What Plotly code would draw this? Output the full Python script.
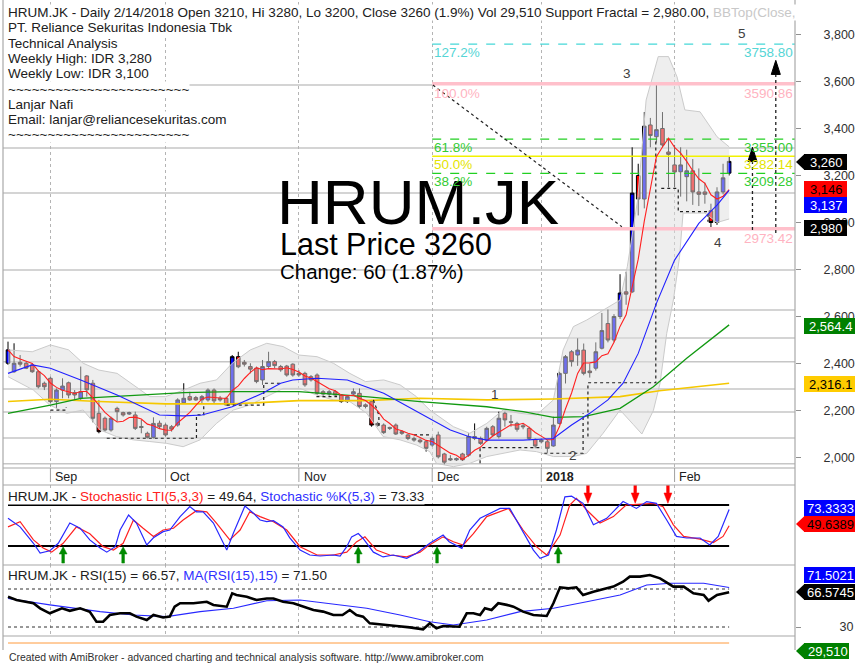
import plotly.graph_objects as go
import pandas as pd

W, H = 855, 664
ML, MR = 3, 60
PW = W - ML - MR

def px(xp):
    return (xp - ML) / PW

def py(yp):
    return 1 - yp / H

FONT = "Liberation Sans, Arial, sans-serif"

# ---------------- price data (bar index 0 = 23 Aug 2017 ... 119 = 14 Feb 2018) ----------------
opens = [2401,2365,2405,2401,2394,2365,2316,2337,2238,2287,2318,2276,2252,2347,2316,2188,2167,2117,2209,2191,
         2185,2181,2132,2103,2086,2146,2138,2131,2138,2233,2259,2255,2245,2245,2287,2252,2252,2227,2429,2405,
         2387,2380,2330,2387,2408,2387,2389,2397,2358,2358,2344,2351,2280,2270,2280,2266,2238,2270,2273,2224,
         2238,2145,2138,2128,2138,2110,2096,2081,2074,2067,2053,2096,2015,1995,1990,2015,2010,2081,2081,2074,
         2131,2089,2188,2152,2145,2135,2124,2077,2067,2067,2049,2145,2358,2450,2436,2457,2368,2380,2465,2570,
         2500,2600,2705,2705,3200,3100,3415,3365,3400,3300,3245,3216,3195,3220,3130,3130,3050,3000,3130,3210]
highs = [2493,2486,2436,2408,2401,2372,2323,2344,2294,2337,2323,2287,2387,2351,2330,2245,2174,2174,2216,2195,
         2195,2195,2160,2110,2171,2157,2145,2138,2252,2316,2280,2262,2266,2294,2294,2262,2259,2436,2450,2415,
         2401,2387,2415,2450,2415,2394,2394,2401,2372,2365,2351,2358,2287,2287,2287,2270,2266,2294,2294,2230,
         2245,2152,2145,2131,2145,2117,2100,2089,2081,2074,2089,2110,2020,2010,2000,2020,2103,2145,2089,2131,
         2138,2195,2195,2181,2152,2145,2131,2081,2081,2075,2174,2365,2436,2457,2507,2485,2400,2490,2615,2630,
         2610,2780,2790,3320,3250,3470,3445,3585,3470,3360,3330,3320,3310,3270,3230,3170,3080,3150,3250,3280]
lows = [2394,2360,2387,2376,2360,2294,2287,2230,2209,2252,2252,2245,2245,2259,2150,2103,2110,2110,2153,2174,
        2181,2117,2103,2081,2081,2124,2089,2110,2131,2230,2241,2241,2230,2238,2230,2238,2220,2224,2380,2387,
        2358,2316,2309,2380,2380,2365,2344,2344,2344,2301,2323,2266,2262,2262,2259,2233,2233,2262,2209,2209,
        2131,2131,2100,2117,2096,2096,2074,2067,2060,2025,2046,1996,1970,1985,1985,1985,2003,2074,2053,2067,
        2089,2081,2131,2131,2110,2120,2074,2039,2060,2020,2046,2140,2315,2387,2390,2350,2340,2370,2460,2490,
        2490,2590,2650,2700,3030,3060,3320,3340,3320,3150,3150,3110,3090,3075,3070,3080,2980,2990,3120,3200]
closes = [2458,2401,2397,2380,2365,2301,2301,2238,2287,2304,2266,2266,2280,2288,2167,2110,2117,2167,2195,2181,
          2191,2124,2128,2086,2145,2131,2096,2121,2245,2252,2245,2245,2259,2287,2241,2245,2224,2429,2386,2397,
          2376,2323,2387,2408,2391,2373,2351,2351,2351,2309,2330,2273,2270,2280,2266,2238,2259,2280,2217,2217,
          2138,2138,2106,2124,2100,2103,2081,2074,2067,2039,2081,2003,1980,1990,1995,1990,2089,2089,2060,2124,
          2096,2167,2160,2150,2120,2131,2081,2049,2074,2039,2138,2358,2429,2408,2457,2358,2361,2450,2540,2500,
          2600,2700,2695,3125,3100,3410,3370,3395,3330,3290,3215,3245,3220,3130,3120,3120,3000,3130,3190,3260]

month_labels = ["Sep", "Oct", "Nov", "Dec", "2018", "Feb"]
month_bars = [7, 26, 48, 70, 88, 110]

price_ticks = [2000, 2200, 2400, 2600, 2800, 3000, 3200, 3400, 3600, 3800]

# ---------------- indicator lines (bar, value) ----------------
ma20_x = [0,4,7,12,18,22,25,29,32,37,42,45,47,51,56,62,69,73,76,79,85,90,93,96,99,101.5,104,107,110,114,117,119]
ma20_y = [2358,2394,2380,2330,2266,2216,2181,2177,2181,2216,2273,2316,2330,2337,2330,2273,2174,2117,2089,2074,
          2074,2081,2138,2188,2245,2316,2443,2656,2840,2996,3074,3137]
ma_green_x = [0,7,12,21,29,37,48,59,68,79,85,90,95,101,106.5,112,119]
ma_green_y = [2188,2223,2252,2266,2276,2280,2280,2259,2238,2216,2195,2171,2174,2209,2301,2422,2564.4]
ma_yellow_x = [0,7,15,26,37,48,59,68,79,90,101,107.5,119]
ma_yellow_y = [2238,2248,2238,2228,2228,2242,2242,2252,2245,2249,2259,2284,2316.1]

bb_up_x = [0,4,7,10,12.4,15,18,21,23.4,26,29,31.7,34.4,37,40,42.7,45.4,48,51,53.7,56.4,59,62,64.7,67.4,69.6,
           73.5,76.2,79,81.7,84.5,87.2,90,91.6,93.3,95.5,98.2,101,102.2,103.9,105.3,107.3,109,110.4,111.7,114.2,117,119]
bb_up_y = [2458,2450,2479,2458,2401,2372,2358,2301,2259,2259,2287,2316,2330,2401,2458,2486,2472,2436,2429,2401,
           2358,2323,2330,2309,2259,2202,2131,2103,2145,2202,2188,2181,2245,2457,2557,2585,2628,2670,2812,3096,
           3521,3706,3706,3620,3479,3471,3365,3322]
bb_lo_x = [0,4.2,6.9,9.7,12.4,15.2,17.9,20.7,23.4,26.2,28.9,31.7,34.4,37.2,39.9,42.7,45.4,48.2,50.9,53.7,56.4,
           59.2,61.9,64.7,67.4,69.6,70.7,73.5,76.2,79,81.7,84.5,87.2,90,93.3,95.5,98.2,101,103.2,104.6,106.5,
           107.6,108.7,109.8,110.8,111.4,115,117,119]
bb_lo_y = [2344,2287,2223,2188,2202,2117,2089,2075,2068,2060,2046,2075,2145,2202,2223,2259,2294,2294,2266,2245,
           2238,2188,2089,2075,2053,2025,1975,1961,1975,2004,2018,2032,2025,2004,2004,2018,2103,2202,2140,2100,
           2200,2316,2528,2670,2850,3040,3040,3000,3015]

support_levels = [3317, 3126, 2798, 2628, 2509, 2407, 2292, 2194, 2083, 1973]

fib_names = ["0.0%", "38.2%", "50.0%", "61.8%", "100.0%", "127.2%"]
fib_values = [2973.42, 3209.28, 3282.14, 3355.00, 3590.86, 3758.80]

# dashed fractal support paths (bar, price)
fractal_paths = [
    [(7, 2202), (9.6, 2202), (9.6, 2214)],
    [(16.3, 2082), (31.1, 2082), (31.1, 2181), (32.3, 2181), (32.3, 2230)],
    [(36.1, 2223), (42.2, 2223), (42.2, 2316), (45, 2316)],
    [(50.9, 2259), (54.2, 2259), (54.2, 2270)],
    [(60.3, 2245), (61.2, 2180), (61.2, 2131)],
    [(67, 2096), (69.6, 2096)],
    [(77.9, 1975), (77.9, 2042), (88, 2042)],
    [(88.5, 2018), (94.9, 2018), (94.9, 2188)],
    [(95.7, 2089), (95.7, 2318), (106.9, 2318), (106.9, 3350)],
    [(107.8, 3145), (110.6, 3145), (110.6, 3046), (115.5, 3046), (115.5, 3003)],
    [(70.1, 3585), (101.3, 2982)],
]

wave_labels = ["1", "2", "3", "4", "5"]
wave_x = [80.4, 93.3, 102.1, 117.2, 121.1]
wave_y = [2266, 2010, 3636, 2913, 3806]

target_bars = [122.85, 126.7]
target_from = [2968, 2955]
target_to = [3320, 3690]

# stochastic
stk_x = [0,2,4.2,5.3,6.9,8.3,10.2,11.9,13.5,15.2,16.3,17.7,18.5,19.9,21.2,22.9,24,25.6,26.7,28.4,30,31.1,32.2,33.9,
         36.1,37.2,39.1,40.5,41.6,42.7,43.8,45.4,46.5,48.2,49.8,51.5,53.7,54.8,55.9,56.7,57.8,58.6,60.3,61.9,63.6,
         65.8,67.4,69.6,71.8,72.8,74.9,76.2,77.9,81.2,82.8,84.5,86.7,87.8,89.2,90.5,91.9,93,94.9,96.6,98.8,101.5,
         103.7,105.4,107,108.7,110.3,112,114.2,115.8,117.2,119]
stk_y = [60.5,48,24,9.5,13,24,53.6,46,29,17,11,19,43.4,65.4,53.6,21.5,32,41,43.4,63,77.6,70,70,53.6,
         14,39,78.5,68,58,55.6,57,48,32,14,6.8,5.4,6.8,5.4,19,33.4,38.2,31,11,4,6.8,
         2,9.5,24,36,26.3,16.6,43.4,60.5,75,75,48,14,2,6.8,43.4,92,93,82.4,51,60.5,85,
         75,85,82.4,58,34,31.7,31.7,21.5,34,73.33]
lti_x = [0,2,4.2,5.8,7.2,9.1,11.3,13.5,15.7,17.4,19,20.7,22.3,24,25.6,27.3,28.9,31.1,32.8,34.4,36.6,38.3,39.9,41.6,
         43.8,46,48.2,51,53.7,55.9,57.5,58.9,60.8,63,65.8,68,69.6,71.8,73.5,75.1,76.8,79,82.6,85,87.2,88.9,91.1,
         92.7,93.8,95.5,97.7,99.9,102,104.3,106.5,108.1,109.8,111.5,114.2,116.4,118,119]
lti_y = [48,55.6,29,17,11,24,48,38,19,14,24,58,46,34,43.4,46,58,71.6,70,53.6,29,43.4,70,63,
         55.6,43.4,19,6.8,6.8,11,26,33.4,14,6.8,4,11,22,33.4,26.3,21.5,38,63,75,43.4,19,6.8,36,
         80,89.8,72.7,53.6,63,80,81.4,82.4,77.6,51,34,30,25,34,49.64]
buy_bars = [9.1, 19, 57.8, 70.8, 90.8]
sell_bars = [95.7, 103.5, 108.9]

# RSI
rsi_x = [0,1.4,4.2,5.3,6.9,7.8,8.9,10.2,11.9,13.5,14.6,15.7,16.8,18.5,20.1,21.2,22.9,24,25.6,26.7,27.5,28.4,30.6,
         32.8,33.9,36.1,37,37.7,39.4,41,42.7,43.8,45.4,47.1,48.7,50.4,52,53.7,55.2,56.4,57.5,58.6,59.7,61.9,64.1,
         66.3,68.5,69.6,70.7,71.8,74.5,75.7,76.8,77.9,78.7,79.8,80.9,82.3,83.4,85,86.7,88.9,90,91.1,92.5,93.8,
         94.9,96.6,98.2,99.9,101.5,102.6,104.3,105.9,107.6,109.8,111.5,113.1,114.8,115.6,117,119]
rsi_y = [61.9,58.4,55,49.7,44.4,47,49.7,47,49.7,46.1,35.6,35.6,42.6,44.4,44.4,40.9,37.4,42.6,40,40.9,51.4,55,55,
         56.6,53.2,51.4,65.4,63.7,61.9,58.4,60,60,56.6,55,51.4,47.9,46.2,42.6,42.6,47.9,42.6,40.9,33.9,32.1,31,
         29.6,27.5,33.9,28.6,31,30.3,44.4,44.4,42.6,49.7,47.9,55,53.3,51.4,46.2,42.6,41.6,55,71.8,70.7,71.8,
         63.7,67.2,69.6,72.5,77.7,83,83,84.7,81.2,72.5,72.5,65.4,63.7,57.7,63.7,66.57]
rsima_x = [0,6.9,15.2,20.7,26.2,31.7,37.2,42.7,48.2,53.7,59.2,64.7,69.6,73.5,79,84.5,90,95.5,101,105.4,109.3,114.8,119]
rsima_y = [60,53.3,46.2,42.6,40.9,46.2,49.7,57.7,58.4,54.2,49.7,42.6,35.6,32.1,37.4,46.2,49.7,56.6,63.7,74.2,76,76,71.5]

# ---------------- figure ----------------
bars = list(range(len(closes)))
ma5 = pd.Series(closes).rolling(5, min_periods=1).mean().tolist()

fig = go.Figure()

# Bollinger band area
fig.add_trace(go.Scatter(x=bb_up_x + bb_lo_x[::-1], y=bb_up_y + bb_lo_y[::-1], fill="toself",
                         fillcolor="rgba(222,222,222,0.5)", line=dict(width=0), mode="lines",
                         hoverinfo="skip"))
fig.add_trace(go.Scatter(x=bb_up_x, y=bb_up_y, mode="lines", line=dict(color="#cbcbcb", width=1)))
fig.add_trace(go.Scatter(x=bb_lo_x, y=bb_lo_y, mode="lines", line=dict(color="#cbcbcb", width=1)))

# fib lines
fib_style = {
    "0.0%": ("#ffc0cb", 3.5, "solid", "#ffb3c1"),
    "38.2%": ("#22d022", 1.3, "dash", "#33cc33"),
    "50.0%": ("#f2f200", 1.6, "solid", "#e4e400"),
    "61.8%": ("#22d022", 1.3, "dash", "#33cc33"),
    "100.0%": ("#ffc0cb", 3.5, "solid", "#ffb3c1"),
    "127.2%": ("#45d8d8", 1.3, "dash", "#55d5d5"),
}
xr = [-0.825, 129.87]
for name, val in zip(fib_names, fib_values):
    c, wdt, dash, _ = fib_style[name]
    fig.add_trace(go.Scatter(x=[70, xr[1]], y=[val, val], mode="lines", line=dict(color=c, width=wdt, dash=dash)))

# long moving averages
fig.add_trace(go.Scatter(x=ma_yellow_x, y=ma_yellow_y, mode="lines", line=dict(color="#f5c800", width=1.6)))
fig.add_trace(go.Scatter(x=ma_green_x, y=ma_green_y, mode="lines", line=dict(color="#119911", width=1.3)))

# fractal dashed paths
fx, fy = [], []
for path in fractal_paths:
    for (a, b) in path:
        fx.append(a)
        fy.append(b)
    fx.append(None)
    fy.append(None)
fig.add_trace(go.Scatter(x=fx, y=fy, mode="lines", line=dict(color="#202020", width=1.2, dash="3px,3px")))

# target arrows
for b, f, t in zip(target_bars, target_from, target_to):
    base = t - 60
    fig.add_trace(go.Scatter(x=[b, b], y=[f, base], mode="lines",
                             line=dict(color="#202020", width=1.3, dash="3px,3px")))
    fig.add_trace(go.Scatter(x=[b - 0.75, b, b + 0.75, b - 0.75], y=[base, t, base, base], fill="toself",
                             fillcolor="#000000", mode="lines", line=dict(color="#000000", width=1)))

# candles
fig.add_trace(go.Candlestick(x=bars, open=opens, high=highs, low=lows, close=closes,
                             increasing=dict(fillcolor="#0000ff", line=dict(color="#000000", width=1)),
                             decreasing=dict(fillcolor="#ff0000", line=dict(color="#000000", width=1)),
                             whiskerwidth=0, hoverinfo="skip"))

fig.add_trace(go.Scatter(x=bars, y=ma5, mode="lines", line=dict(color="#ff2020", width=1.1)))
fig.add_trace(go.Scatter(x=ma20_x, y=ma20_y, mode="lines", line=dict(color="#2020ff", width=1.1)))

# ---------------- stochastic panel ----------------
fig.add_trace(go.Scatter(x=[0, 119], y=[80, 80], mode="lines", line=dict(color="#000000", width=2),
                         xaxis="x2", yaxis="y2"))
fig.add_trace(go.Scatter(x=[0, 119], y=[20, 20], mode="lines", line=dict(color="#000000", width=2),
                         xaxis="x2", yaxis="y2"))
fig.add_trace(go.Scatter(x=lti_x, y=lti_y, mode="lines", line=dict(color="#ff2020", width=1.2),
                         xaxis="x2", yaxis="y2"))
fig.add_trace(go.Scatter(x=stk_x, y=stk_y, mode="lines", line=dict(color="#2828ff", width=1.2),
                         xaxis="x2", yaxis="y2"))
ax, ay = [], []
for b in buy_bars:
    ax += [b - 0.22, b - 0.22, b - 0.65, b, b + 0.65, b + 0.22, b + 0.22, b - 0.22, None]
    ay += [-5, 8.3, 8.3, 19, 8.3, 8.3, -5, -5, None]
fig.add_trace(go.Scatter(x=ax, y=ay, fill="toself", fillcolor="#008a00", mode="lines",
                         line=dict(color="#008a00", width=0.5), xaxis="x2", yaxis="y2"))
sx, sy = [], []
for b in sell_bars:
    sx += [b - 0.22, b - 0.22, b - 0.65, b, b + 0.65, b + 0.22, b + 0.22, b - 0.22, None]
    sy += [109, 97.6, 97.6, 82.5, 97.6, 97.6, 109, 109, None]
fig.add_trace(go.Scatter(x=sx, y=sy, fill="toself", fillcolor="#ff0000", mode="lines",
                         line=dict(color="#ff0000", width=0.5), xaxis="x2", yaxis="y2"))

# ---------------- RSI panel ----------------
for lvl in (70, 30):
    fig.add_trace(go.Scatter(x=[0, 119], y=[lvl, lvl], mode="lines",
                             line=dict(color="#303030", width=1, dash="3px,3px"), xaxis="x3", yaxis="y3"))
fig.add_trace(go.Scatter(x=rsima_x, y=rsima_y, mode="lines", line=dict(color="#2828ff", width=1.1),
                         xaxis="x3", yaxis="y3"))
fig.add_trace(go.Scatter(x=rsi_x, y=rsi_y, mode="lines", line=dict(color="#000000", width=2.6),
                         xaxis="x3", yaxis="y3"))

# ---------------- layout ----------------
main_dom = [py(468), py(2)]
main_rng = [3800 - (468 - 34.5) * 200 / 47, 3800 + (34.5 - 2) * 200 / 47]
stoch_dom = [py(565), py(485)]
stoch_rng = [20 - (565 - 546) * 60 / 41, 80 + (505 - 485) * 60 / 41]
rsi_dom = [py(636), py(565)]
rsi_rng = [30 - (636 - 627) / 0.95, 70 + (589 - 565) / 0.95]

xcommon = dict(range=xr, showgrid=True, gridcolor="#b4b4b4", griddash="dot", gridwidth=1,
               tickvals=month_bars, showticklabels=False, ticks="", zeroline=False, showline=False,
               fixedrange=True)

fig.update_layout(
    width=W, height=H, margin=dict(l=ML, r=MR, t=0, b=0),
    paper_bgcolor="white", plot_bgcolor="white", showlegend=False, boxgap=0.15,
    font=dict(family=FONT, color="#202020"),
    xaxis=dict(domain=[0, 1], anchor="y", rangeslider=dict(visible=False), **xcommon),
    xaxis2=dict(domain=[0, 1], anchor="y2", matches="x", **xcommon),
    xaxis3=dict(domain=[0, 1], anchor="y3", matches="x", **xcommon),
    yaxis=dict(domain=main_dom, range=main_rng, side="right", showgrid=False, zeroline=False,
               tickvals=price_ticks, ticktext=[f"{v:,}" for v in price_ticks], ticks="outside", ticklen=5,
               tickcolor="#909090", ticklabelstandoff=20, tickfont=dict(size=12.5, color="#303030"),
               fixedrange=True),
    yaxis2=dict(domain=stoch_dom, range=stoch_rng, side="right", showgrid=False, zeroline=False,
                showticklabels=False, ticks="", fixedrange=True),
    yaxis3=dict(domain=rsi_dom, range=rsi_rng, side="right", showgrid=False, zeroline=False,
                tickvals=[30], ticktext=["30"], ticks="outside", ticklen=5, tickcolor="#909090",
                ticklabelstandoff=36, tickfont=dict(size=12.5, color="#303030"), fixedrange=True),
)

shapes = []
# support/resistance grey lines
for lv in support_levels:
    shapes.append(dict(type="line", xref="x", yref="y", x0=xr[0], x1=xr[1], y0=lv, y1=lv,
                       line=dict(color="#c6c6c6", width=1.5), layer="below"))
shapes.append(dict(type="line", xref="x", yref="y", x0=28, x1=70, y0=3585, y1=3585,
                   line=dict(color="#c6c6c6", width=1.5), layer="below"))
# panel frames
for yy in (468, 485, 565, 636):
    shapes.append(dict(type="line", xref="paper", yref="paper", x0=px(3), x1=px(795), y0=py(yy), y1=py(yy),
                       line=dict(color="#a8a8a8", width=1.2)))
for xx in (3, 795):
    shapes.append(dict(type="line", xref="paper", yref="paper", x0=px(xx), x1=px(xx), y0=py(0), y1=py(650),
                       line=dict(color="#a8a8a8", width=1.2)))
# month ticks under the price chart
for b in month_bars:
    shapes.append(dict(type="line", xref="x", yref="paper", x0=b, x1=b, y0=py(468), y1=py(482),
                       line=dict(color="#a0a0a0", width=1)))
# volume strip line
shapes.append(dict(type="line", xref="x", yref="paper", x0=0, x1=119, y0=py(643), y1=py(643),
                   line=dict(color="#ff9a3c", width=1)))

annotations = []

def note(text, xp, yp, size=13.5, color="#202020", xanchor="left", bg=None, bold=False, yanchor="middle"):
    d = dict(text=("<b>" + text + "</b>") if bold else text, x=px(xp), y=py(yp), xref="paper", yref="paper",
             xanchor=xanchor, yanchor=yanchor, showarrow=False, font=dict(family=FONT, size=size, color=color),
             borderpad=0)
    if bg:
        d["bgcolor"] = bg
    annotations.append(d)

header = ("HRUM.JK - Daily 2/14/2018 Open 3210, Hi 3280, Lo 3200, Close 3260 (1.9%) Vol 29,510 "
          "Support Fractal = 2,980.00, <span style='color:#c8c8c8'>BBTop(Close,</span>")
tilde = "~" * 23
head_lines = [header, "PT. Reliance Sekuritas Indonesia Tbk", "Technical Analysis",
              "Weekly High: IDR 3,280", "Weekly Low: IDR 3,100", tilde, "Lanjar Nafi",
              "Email: lanjar@reliancesekuritas.com", tilde]
for i, t in enumerate(head_lines):
    note(t, 7, 12.5 + 15.3 * i, bg="white")

note("HRUM.JK", 276, 202, size=63.5, color="#000000")
note("Last Price 3260", 279, 244, size=30.5, color="#000000")
note("Change: 60 (1.87%)", 279, 271, size=20.5, color="#000000")

for lbl, b in zip(month_labels, month_bars):
    annotations.append(dict(text=("<b>" + lbl + "</b>") if lbl == "2018" else lbl, x=b + 0.45, y=py(477),
                            xref="x", yref="paper", xanchor="left", yanchor="middle", showarrow=False,
                            font=dict(family=FONT, size=12.5, color="#202020")))

# fib labels
for name, val in zip(fib_names, fib_values):
    c = fib_style[name][3]
    ypix = 34.5 + (3800 - val) * 47 / 200
    off = 9.5 if name in ("100.0%", "0.0%") else 8
    if name != "0.0%":
        note(name, 433, ypix + off, size=13.5, color=c)
    note(f"{val:.2f}", 794, ypix + off, size=13.5, color=c, xanchor="right")

for t, b, v in zip(wave_labels, wave_x, wave_y):
    annotations.append(dict(text=t, x=b, y=v, xref="x", yref="y", showarrow=False,
                            font=dict(family=FONT, size=13.5, color="#404040")))

note("HRUM.JK - <span style='color:#ff2020'>Stochastic LTI(5,3,3)</span> = 49.64, "
     "<span style='color:#3030ff'>Stochastic %K(5,3)</span> = 73.33", 7, 496.5, bg="white")
note("HRUM.JK - RSI(15) = 66.57, <span style='color:#3030ff'>MA(RSI(15),15)</span> = 71.50", 7, 575, bg="white")
note("Created with AmiBroker - advanced charting and technical analysis software. http://www.amibroker.com",
     8, 657, size=10.4, color="#303030")

# right side value boxes
boxes = [
    ("3,260", 162, "#000000", "#ffffff", 847, True),
    ("3,146", 189, "#ff0000", "#000000", 847, False),
    ("3,137", 205, "#0000ff", "#ffffff", 847, False),
    ("2,980", 228, "#000000", "#ffffff", 847, False),
    ("2,564.4", 326, "#008000", "#ffffff", 855, False),
    ("2,316.1", 384, "#ffcc00", "#000000", 855, False),
    ("73.3333", 508, "#0000ff", "#ffffff", 855, False),
    ("49.6389", 524, "#ff0000", "#000000", 855, True),
    ("71.5021", 575, "#0000ff", "#ffffff", 855, False),
    ("66.5745", 592, "#000000", "#ffffff", 855, True),
    ("29,510", 651, "#008000", "#ffffff", 849, True),
]
for text, yc, bgc, fgc, x1, pointer in boxes:
    x0 = 804
    shapes.append(dict(type="rect", xref="paper", yref="paper", x0=px(x0), x1=px(x1), y0=py(yc + 8), y1=py(yc - 8),
                       fillcolor=bgc, line=dict(width=0), layer="above"))
    if pointer:
        path = f"M {px(796)},{py(yc)} L {px(x0 + 0.5)},{py(yc - 8)} L {px(x0 + 0.5)},{py(yc + 8)} Z"
        shapes.append(dict(type="path", xref="paper", yref="paper", path=path, fillcolor=bgc,
                           line=dict(width=0), layer="above"))
    note(text, (x0 + x1) / 2 + 1, yc, size=13, color=fgc, xanchor="center")

fig.update_layout(shapes=shapes, annotations=annotations)
fig.write_html("out.html")
